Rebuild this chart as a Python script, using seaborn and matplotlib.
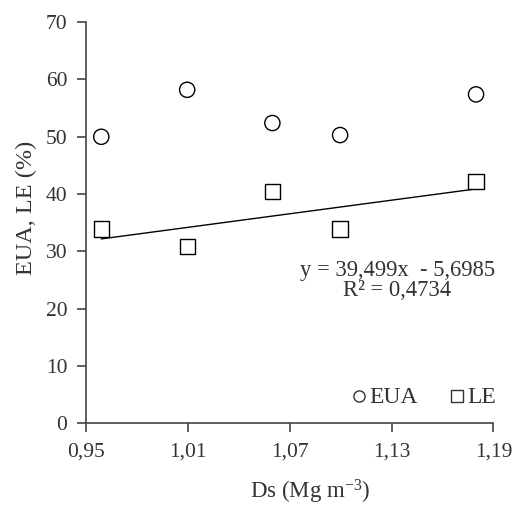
import matplotlib
matplotlib.use("Agg")
import matplotlib.pyplot as plt
import seaborn as sns
import numpy as np
import pandas as pd
from matplotlib.ticker import FuncFormatter, MultipleLocator

# data
ds = [0.959, 1.0096, 1.0598, 1.0997, 1.1798]
eua = [50.0, 58.2, 52.4, 50.3, 57.4]
le = [33.9, 30.8, 40.4, 33.9, 42.2]
slope, intercept = 39.499, -5.6985
eq_text = "y = 39,499x  - 5,6985"
r2_text = "R² = 0,4734"
xticks = [0.95, 1.01, 1.07, 1.13, 1.19]

sns.set_style("ticks")
plt.rcParams['font.family'] = ['Liberation Serif', 'DejaVu Serif']
plt.rcParams['mathtext.default'] = 'regular'
txt_col = "#333333"

df = pd.DataFrame({"Ds": ds * 2, "val": eua + le,
                   "var": ["EUA"] * len(ds) + ["LE"] * len(ds)})

fig = plt.figure(figsize=(5.15, 5.11), dpi=100)
ax = fig.add_axes([0.167, 0.1716, 0.791, 0.785])

# trend line for LE
xl = np.array([ds[0], ds[-1]])
sns.lineplot(x=xl, y=slope * xl + intercept, color="black", lw=1, ax=ax)

sns.scatterplot(data=df, x="Ds", y="val", style="var", markers={"EUA": "o", "LE": "s"},
                s=120, facecolor="white", edgecolor="black", linewidth=1,
                color="white", ax=ax, legend=False, zorder=3)

# legend by hand (hollow markers)
h1 = ax.scatter([], [], marker="o", s=65, facecolor="white", edgecolor="#333333", lw=1)
h2 = ax.scatter([], [], marker="s", s=65, facecolor="white", edgecolor="#333333", lw=1)
ax.legend([h1, h2], ["EUA", "LE"], ncol=2, frameon=False, loc="center",
          bbox_to_anchor=(0.828, 0.066), fontsize=17, handletextpad=0.1,
          handlelength=0.7, columnspacing=1.3, labelcolor=txt_col)

ax.text(0.764, 0.382, eq_text, transform=ax.transAxes, ha="center",
        va="center", fontsize=16.3, color=txt_col)
ax.text(0.764, 0.330, r2_text, transform=ax.transAxes, ha="center",
        va="center", fontsize=16.3, color=txt_col)

ax.set_xlim(0.95, 1.19)
ax.set_ylim(0, 70)
ax.set_xticks(xticks)
ax.yaxis.set_major_locator(MultipleLocator(10))
ax.xaxis.set_major_formatter(FuncFormatter(lambda v, p: f"{v:.2f}".replace(".", ",")))
ax.tick_params(labelsize=15.5, color="#444444", length=6.5, width=1.2,
               labelcolor=txt_col)
ax.tick_params(axis="y", pad=7)
ax.tick_params(axis="x", pad=7)
for s in ["left", "bottom"]:
    ax.spines[s].set_color("#444444")
    ax.spines[s].set_linewidth(1.2)
sns.despine(ax=ax)
ax.set_xlabel(r"Ds (Mg m$^{-3}$)", fontsize=16.5, color=txt_col)
ax.set_ylabel("EUA, LE (%)", fontsize=17.5, color=txt_col)
ax.xaxis.set_label_coords(0.55, -0.137)
ax.yaxis.set_label_coords(-0.12, 0.538)

fig.savefig("out.png", dpi=100)
